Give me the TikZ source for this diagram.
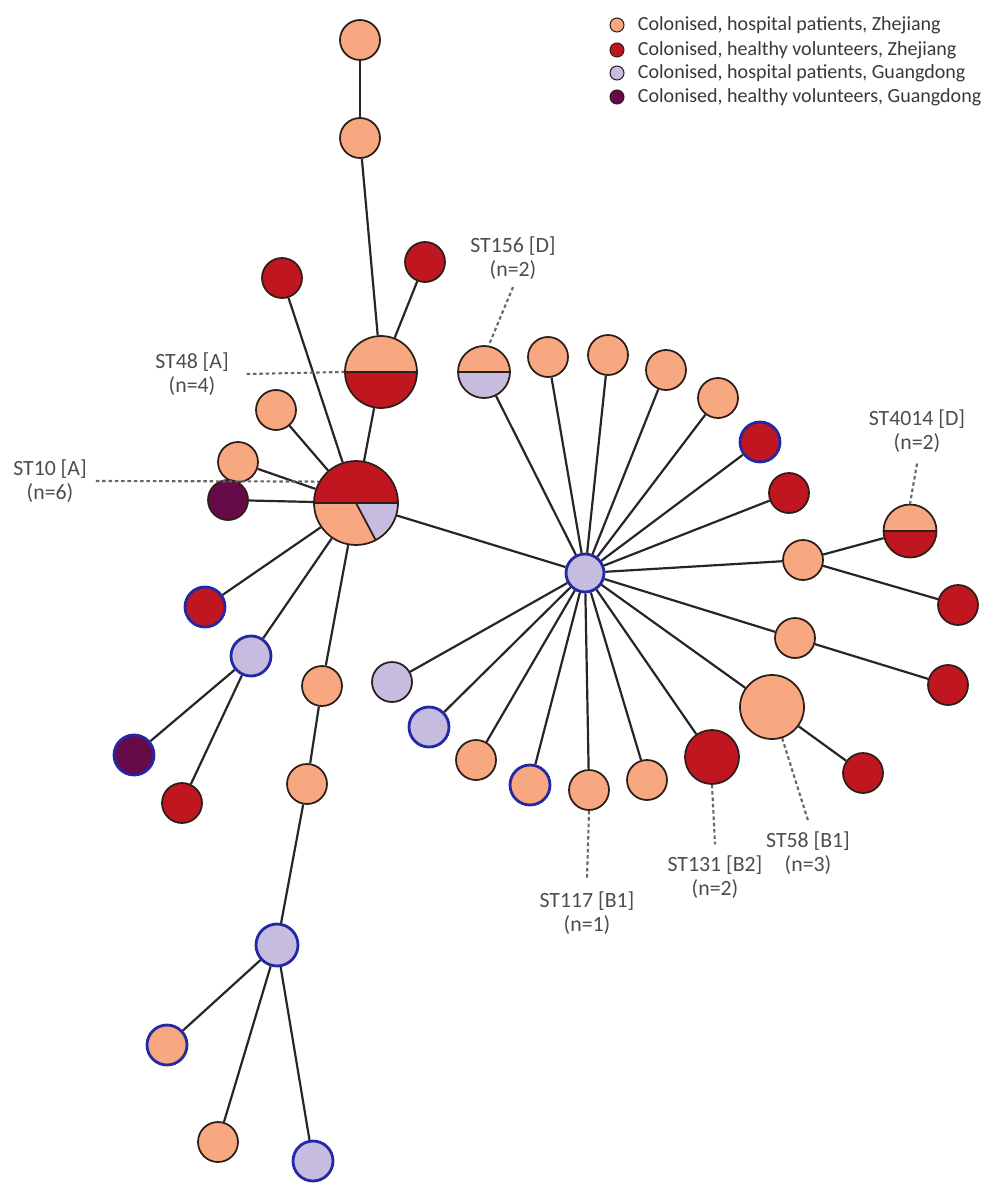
\documentclass[tikz,border=0pt]{standalone}
\usepackage{fontspec}
\setmainfont{Carlito}
\usetikzlibrary{positioning}
\definecolor{hzcol}{RGB}{248,168,128}
\definecolor{vzcol}{RGB}{192,22,32}
\definecolor{hgcol}{RGB}{198,188,224}
\definecolor{vgcol}{RGB}{102,10,72}
\definecolor{gdblue}{RGB}{35,40,165}
\definecolor{rim}{RGB}{45,30,25}
\tikzset{
	iso/.style={circle, draw=rim, line width=1pt, inner sep=0pt, minimum size=0.8cm},
	hz/.style={iso, fill=hzcol},
	vz/.style={iso, fill=vzcol},
	hg/.style={iso, fill=hgcol},
	vg/.style={iso, fill=vgcol},
	gd/.style={draw=gdblue, line width=1.6pt},
	halves/.style 2 args={iso, fill=#1, path picture={
		\fill[#2] (path picture bounding box.west) rectangle (path picture bounding box.south east);
		\draw[rim, line width=1pt] (path picture bounding box.west) -- (path picture bounding box.east);}},
	link/.style={draw=black!85, line width=1.25pt},
	guide/.style={draw=black!60, line width=1.2pt, dash pattern=on 2pt off 1.6pt},
	lbl/.style={font=\fontsize{12.4}{14}\selectfont, text=black!70, align=center, inner sep=1pt},
	key/.style={minimum size=0.28cm, line width=0.6pt},
	keytext/.style={font=\fontsize{11.4}{13}\selectfont, text=black!78, inner sep=0pt}
}

\begin{document}
\begin{tikzpicture}[x=0.02cm, y=-0.02cm]
	%%%%% START %%%%%
	\useasboundingbox (0,0) rectangle (986,1185);
	
	% legend
	\node[hz, key] (k1) at (617,25) {};
	\node[keytext, right=0.26cm of k1] {Colonised, hospital patients, Zhejiang};
	\node[vz, key] (k2) at (617,50) {};
	\node[keytext, right=0.26cm of k2] {Colonised, healthy volunteers, Zhejiang};
	\node[hg, key] (k3) at (617,73) {};
	\node[keytext, right=0.26cm of k3] {Colonised, hospital patients, Guangdong};
	\node[vg, key] (k4) at (617,97) {};
	\node[keytext, right=0.26cm of k4] {Colonised, healthy volunteers, Guangdong};
	
	% ST10 / ST48 cluster
	\node[hz] (t1) at (360,40) {};
	\node[hz] (t2) at (360,138) {};
	\node[halves={hzcol}{vzcol}, minimum size=1.44cm] (st48) at (381,372) {};
	\node[vz] (r48a) at (282,278) {};
	\node[vz] (r48b) at (425,262) {};
	\node[hz] (o10a) at (276,410) {};
	\node[hz] (o10b) at (238,462) {};
	\node[iso, fill=hzcol, minimum size=1.68cm, path picture={
		\fill[vzcol] (path picture bounding box.west) rectangle (path picture bounding box.north east);
		\fill[hgcol] (path picture bounding box.center) -- +(0:100) -- +(31:120) -- +(62:100) -- cycle;
		\draw[rim, line width=1pt] (path picture bounding box.west) -- (path picture bounding box.east);
		\draw[rim, line width=1pt] (path picture bounding box.center) -- +(62:100);}] (st10) at (356,503) {};
	\node[vg] (p10) at (228,500) {};
	\node[vz, gd] (rb10) at (205,607) {};
	\node[hg, gd] (lb10) at (251,656) {};
	\node[vg, gd] (pb) at (134,755) {};
	\node[vz] (r2) at (182,803) {};
	\node[hz] (o3) at (322,686) {};
	\node[hz] (o4) at (307,784) {};
	\node[hg, gd, minimum size=0.84cm] (lb2) at (277,945) {};
	\node[hz, gd] (ob) at (167,1045) {};
	\node[hz] (o5) at (218,1142) {};
	\node[hg, gd] (lb3) at (313,1161) {};
	
	% hub
	\node[hg, gd, minimum size=0.76cm] (hub) at (585,573) {};
	\node[halves={hzcol}{hgcol}, minimum size=1.04cm] (st156) at (484,372) {};
	\node[hz] (h1) at (548,357) {};
	\node[hz] (h2) at (608,355) {};
	\node[hz] (h3) at (666,370) {};
	\node[hz] (h4) at (718,398) {};
	\node[vz, gd] (h5) at (760,442) {};
	\node[vz] (h6) at (789,493) {};
	\node[hz] (h7) at (803,560) {};
	\node[halves={hzcol}{vzcol}, minimum size=1.06cm] (st4014) at (910,531) {};
	\node[vz] (r7) at (958,605) {};
	\node[hz] (h8) at (795,638) {};
	\node[vz] (r8) at (948,685) {};
	\node[hz, minimum size=1.28cm] (st58) at (772,707) {};
	\node[vz] (r58) at (863,773) {};
	\node[vz, minimum size=1.08cm] (st131) at (712,757) {};
	\node[hz] (h9) at (647,780) {};
	\node[hz] (st117) at (589,790) {};
	\node[hz, gd] (h10) at (530,785) {};
	\node[hz] (h11) at (476,760) {};
	\node[hg, gd] (h12) at (429,727) {};
	\node[hg] (h13) at (392,682) {};
	
	\draw[link] (t1) -- (t2);
	\draw[link] (t2) -- (st48);
	\draw[link] (r48b) -- (st48);
	\draw[link] (st48) -- (st10);
	\foreach \n in {r48a,o10a,o10b,p10,rb10,lb10,o3}
		\draw[link] (st10) -- (\n);
	\draw[link] (lb10) -- (pb);
	\draw[link] (lb10) -- (r2);
	\draw[link] (o3) -- (o4);
	\draw[link] (o4) -- (lb2);
	\draw[link] (lb2) -- (ob);
	\draw[link] (lb2) -- (o5);
	\draw[link] (lb2) -- (lb3);
	\draw[link] (st10) -- (hub);
	\foreach \n in {st156,h1,h2,h3,h4,h5,h6,h7,h8,st58,st131,h9,st117,h10,h11,h12,h13}
		\draw[link] (hub) -- (\n);
	\draw[link] (h7) -- (st4014);
	\draw[link] (h7) -- (r7);
	\draw[link] (h8) -- (r8);
	\draw[link] (st58) -- (r58);
	
	% labels
	\node[lbl] (lbl48) at (192,374) {ST48 [A]\\(n=4)};
	\draw[guide] ([xshift=9pt]lbl48.east) -- (st48.west);
	\node[lbl] (lbl10) at (50,481) {ST10 [A]\\(n=6)};
	\draw[guide] ([xshift=4pt]lbl10.east) -- (st10.150);
	\node[lbl] (lbl156) at (513,258) {ST156 [D]\\(n=2)};
	\draw[guide] ([yshift=-3pt]lbl156.south) -- (st156.80);
	\node[lbl] (lbl4014) at (917,431) {ST4014 [D]\\(n=2)};
	\draw[guide] ([yshift=-5pt]lbl4014.south) -- (st4014.north);
	\node[lbl] (lbl117) at (587,913) {ST117 [B1]\\(n=1)};
	\draw[guide] (st117.south) -- ([yshift=6pt]lbl117.north);
	\node[lbl] (lbl131) at (715,877) {ST131 [B2]\\(n=2)};
	\draw[guide] (st131.south) -- ([yshift=5pt]lbl131.north);
	\node[lbl] (lbl58) at (808,853) {ST58 [B1]\\(n=3)};
	\draw[guide] (st58.-72) -- ([yshift=5pt]lbl58.north);
	
	%%%%% END %%%%%
\end{tikzpicture}
\end{document}
